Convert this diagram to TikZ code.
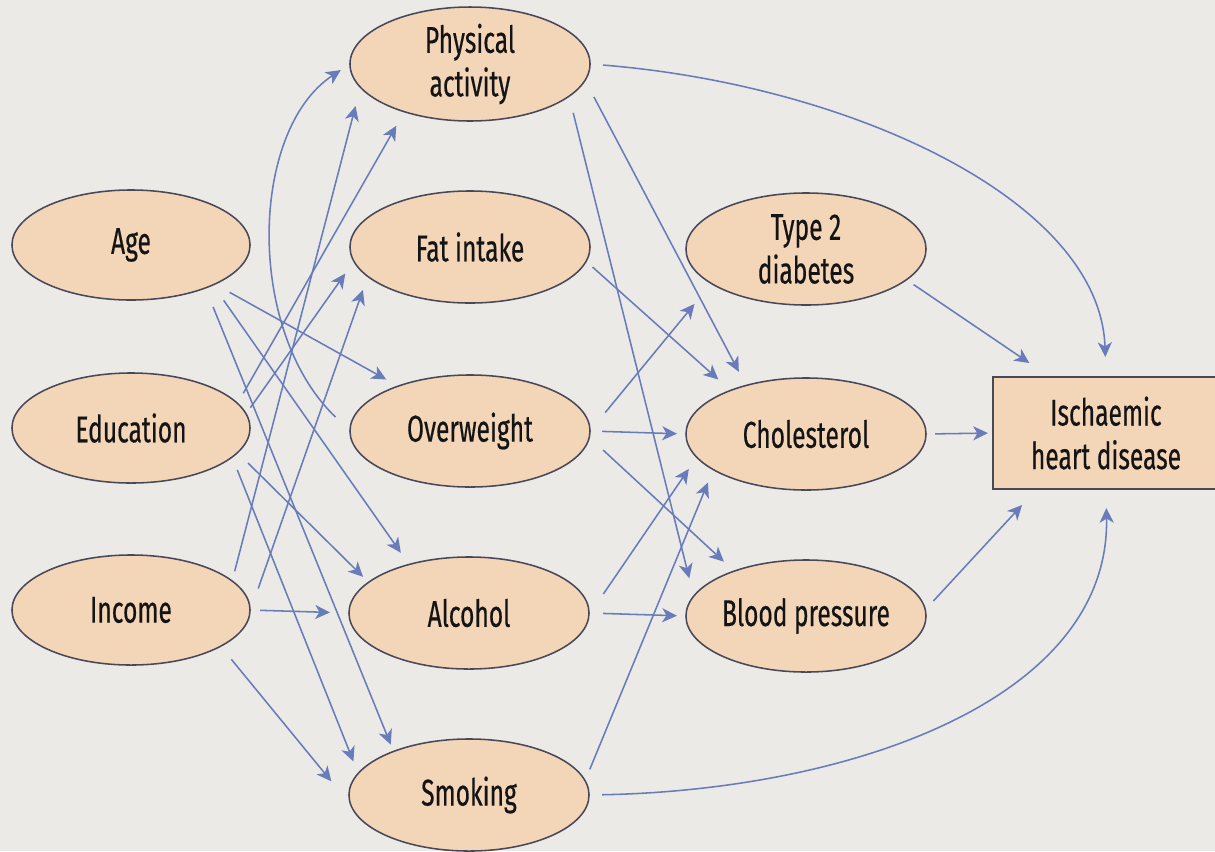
\documentclass[tikz,border=0pt]{standalone}
\usepackage{fontspec}
\setmainfont{Fira Sans}[FakeStretch=0.66,FakeBold=0.4]
\usetikzlibrary{arrows.meta,shapes.geometric}
\definecolor{bgc}{RGB}{236,234,231}
\definecolor{peach}{RGB}{243,213,184}
\definecolor{rimc}{RGB}{72,72,88}
\definecolor{arrc}{RGB}{104,124,186}
\tikzset{
  var/.style={ellipse, draw=rimc, line width=1.1pt, fill=peach,
    minimum width=6cm, minimum height=2.8cm, inner sep=0pt, outer sep=0pt,
    align=center, font=\fontsize{26.5}{31}\selectfont, text=black!92},
  leftvar/.style={var, minimum width=5.95cm, minimum height=2.75cm},
  outbox/.style={rectangle, draw=rimc, line width=1.1pt, fill=peach,
    minimum width=5.65cm, minimum height=2.8cm, inner sep=0pt, outer sep=0pt,
    align=center, font=\fontsize{26.5}{31}\selectfont, text=black!92},
  link/.style={draw=arrc, line width=1.1pt,
    -{Stealth[length=10.5pt,width=10pt,inset=3pt]}},
  gp/.style 2 args={shorten <=#1*0.7113pt, shorten >=#2*0.7113pt},
}
\begin{document}
\begin{tikzpicture}[x=0.025cm, y=-0.025cm]
\useasboundingbox (0,0) rectangle (1215,851);
\fill[bgc] (0,0) rectangle (1215,851);

% left column
\node[leftvar] (age) at (131,245) {Age};
\node[leftvar] (edu) at (131,428) {Education};
\node[leftvar] (inc) at (131,610) {Income};
% middle column
\node[var] (pa) at (470,64) {Physical\\activity};
\node[var] (fi) at (470,247) {Fat intake};
\node[var] (ow) at (470,431) {Overweight};
\node[var] (al) at (469,613) {Alcohol};
\node[var] (sm) at (469,795) {Smoking};
% right column
\node[var] (t2) at (806,249) {Type 2\\diabetes};
\node[var] (ch) at (806,434) {Cholesterol};
\node[var] (bp) at (806,616) {Blood pressure};
% outcome
\node[outbox] (ihd) at (1106,433) {Ischaemic\\heart disease};

% left to middle
\draw[link, gp={17}{13.6}] (age.-25.8) -- (ow.148.7);
\draw[link, gp={18.8}{14.3}] (age.-26.9) -- (al.141.5);
\draw[link, gp={20.5}{7.3}] (age.-30.0) -- (sm.150.5);
\draw[link, gp={11.7}{16.1}] (edu.13.2) -- (pa.-144.1);
\draw[link, gp={7.6}{15}] (edu.7.4) -- (fi.-173.25);
\draw[link, gp={14.8}{7.7}] (edu.-13.0) -- (al.163.1);
\draw[link, gp={13.8}{12.9}] (edu.-16.1) -- (sm.169.3);
\draw[link, gp={10.1}{19.4}] (inc.16.9) -- (pa.-168.6);
\draw[link, gp={25}{14.5}] (inc.-1.7) -- (fi.-164.0);
\draw[link, gp={10}{19}] (inc.east) -- (al.west);
\draw[link, gp={16.9}{31}] (inc.-22.65) -- (sm.185);
\draw[link, gp={20}{11}] (ow.west) .. controls +(-105,-101) and +(-100,66) .. (pa.west);

% middle to right
\draw[link, gp={18.9}{15.5}] (pa.-8.6) -- (ch.141.5);
\draw[link, gp={17.1}{18.4}] (pa.-18.3) -- (bp.170.9);
\draw[link, gp={8.7}{16.4}] (fi.-7.5) -- (ch.150.7);
\draw[link, gp={23.9}{26.5}] (ow.east) -- (t2.-160.9);
\draw[link, gp={12}{9}] (ow.east) -- (ch.west);
\draw[link, gp={18.8}{13.9}] (ow.-3.0) -- (bp.148.6);
\draw[link, gp={25.5}{14.1}] (al.-1.5) -- (ch.-168.6);
\draw[link, gp={14}{9}] (al.east) -- (bp.west);
\draw[link, gp={12.4}{14}] (sm.7.7) -- (ch.-159.5);

% to outcome
\draw[link, gp={13}{20}] (pa.east) .. controls +(260,21) and +(-6,-177) .. (ihd.north);
\draw[link, gp={13}{19}] (sm.east) .. controls +(261,-5) and +(4,211) .. (ihd.south);
\draw[link, gp={8.7}{24.9}] (t2.-17.3) -- (ihd.135.7);
\draw[link, gp={9}{5}] (ch.east) -- (ihd.west);
\draw[link, gp={11.9}{21.7}] (bp.3.5) -- (ihd.-141.9);
\end{tikzpicture}
\end{document}
